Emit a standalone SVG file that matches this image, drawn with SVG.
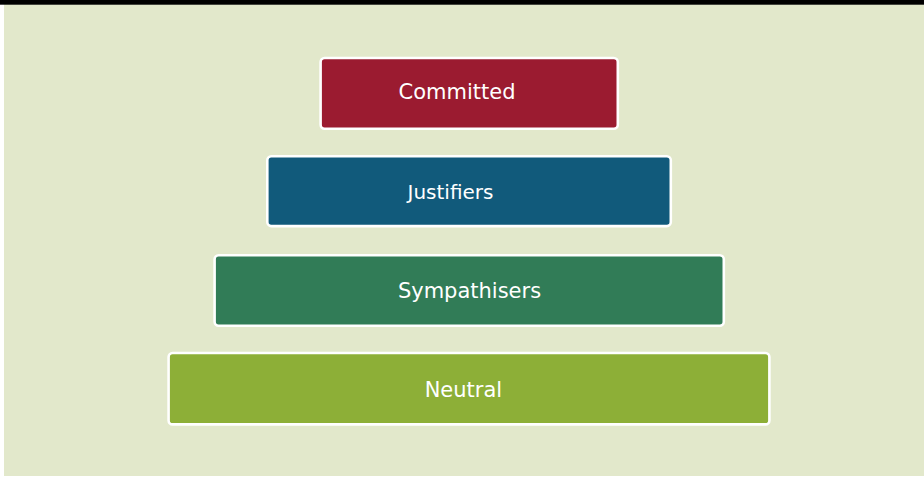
<svg xmlns="http://www.w3.org/2000/svg" width="924" height="478" viewBox="0 0 924 478">
  <style>
    .box { stroke: #ffffff; stroke-width: 2.6; }
    .lbl { font-family: "DejaVu Sans", Verdana, sans-serif; font-size: 21px; fill: #ffffff; text-anchor: middle; }
  </style>
  <rect x="0" y="0" width="924" height="478" fill="#ffffff"/>
  <rect x="4" y="0" width="920" height="476" fill="#E2E8CB"/>
  <rect x="0" y="0" width="924" height="4.7" fill="#000000"/>
  <g id="committed">
    <rect class="box" x="320.6" y="58" width="297.2" height="70.8" rx="4" fill="#9B1B30"/>
    <text class="lbl" x="457" y="99">Committed</text>
  </g>
  <g id="justifiers">
    <rect class="box" x="267.3" y="156.3" width="403.5" height="69.8" rx="4" fill="#115A7B"/>
    <text class="lbl" x="450.5" y="199" style="font-size:20px">Justifiers</text>
  </g>
  <g id="sympathisers">
    <rect class="box" x="214.6" y="255.3" width="509.2" height="70.5" rx="4" fill="#317C57"/>
    <text class="lbl" x="469.5" y="298">Sympathisers</text>
  </g>
  <g id="neutral">
    <rect class="box" x="168.6" y="353" width="600.8" height="71.4" rx="4" fill="#8DAF37"/>
    <text class="lbl" x="463.4" y="396.5">Neutral</text>
  </g>
  <g id="connectors"/>
</svg>
